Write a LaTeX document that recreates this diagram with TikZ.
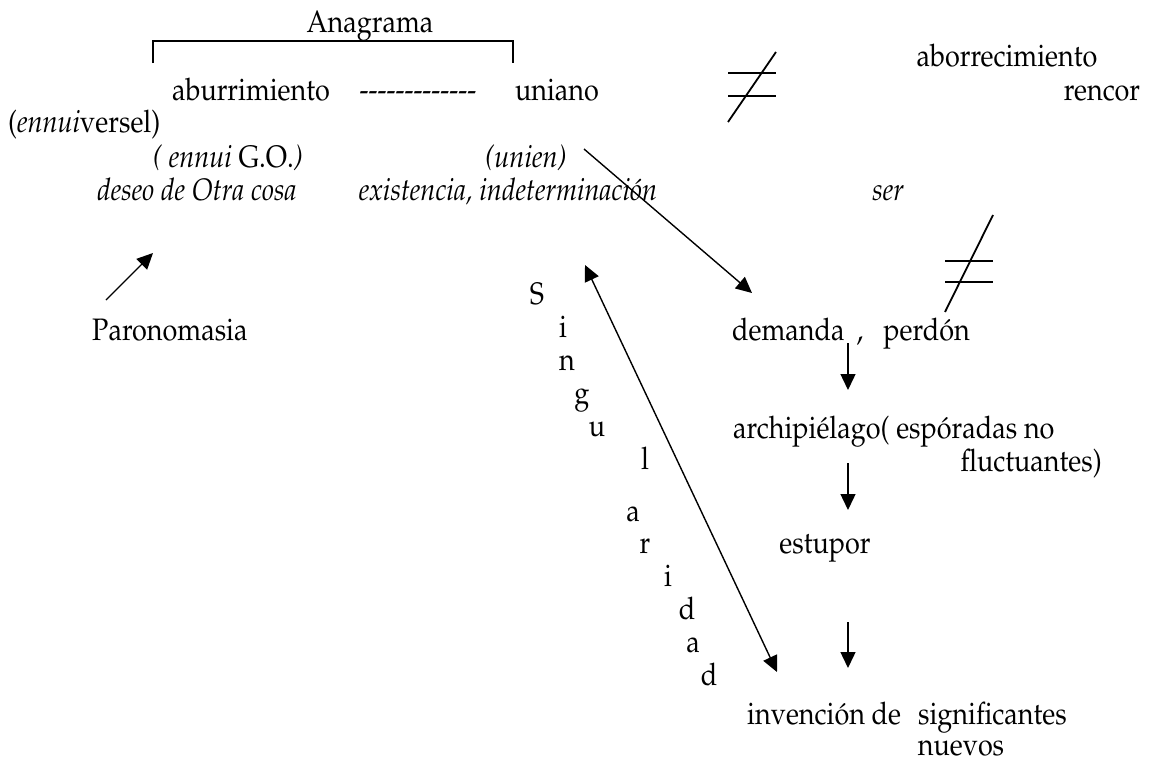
\documentclass[tikz,border=0pt]{standalone}
\usepackage[T1]{fontenc}
\usepackage{mathpazo}
\usepackage{graphicx}
\usetikzlibrary{arrows.meta}

\begin{document}
\begin{tikzpicture}[
    x=1pt, y=-1pt,
    font=\fontsize{27}{33}\selectfont,
    >= {Triangle[length=16pt, width=15pt]},
    txt/.style={anchor=base, inner sep=0pt},
    link/.style={line width=1.4pt},
    bar/.style={line width=1.8pt},
    ]

    \useasboundingbox (0,0) rectangle (1152,763);

    % Define a macro to place one word, a little taller than the font
    \newcommand{\word}[4]{
        % Parameters: Name, Anchor, Position, Text
        \node[txt, anchor=#2] (#1) at (#3) {\scalebox{1}[1.15]{#4}};
    }

    % Define a macro to draw a hand-made "not equal" sign
    \newcommand{\notequal}[6]{
        % Parameters: X_left, X_right, Y_slash_top, Y_slash_bottom, Y_bar1, Y_bar2
        \draw[bar] (#1, #5) -- (#2, #5);
        \draw[bar] (#1, #6) -- (#2, #6);
        \draw[bar] (#1, #4) -- (#2, #3);
    }

    % ==========================================
    % Top Row: Anagrama
    % ==========================================
    \word{anagrama}{base}{370, 32}{Anagrama}
    \word{aburrimiento}{base}{251, 100}{aburrimiento}
    \word{dashes}{base}{418, 100}{-{}-{}-{}-{}-{}-{}-{}-{}-{}-{}-{}-{}-}
    \word{uniano}{base}{557, 100}{uniano}

    \coordinate (brk-left) at (153, 63);
    \coordinate (brk-right) at (513, 63);
    \draw[bar] (brk-left) |- (anagrama.south) -| (brk-right);

    \word{aborrecimiento}{base}{1007, 66}{aborrecimiento}
    \word{rencor}{base}{1102, 100}{rencor}

    \notequal{728}{776}{52}{122}{73}{96}

    % ==========================================
    % Glosses under the words
    % ==========================================
    \word{ennuiversel}{base west}{8, 132}{(\textit{ennui}versel)}
    \word{ennuigo}{base}{228, 167}{\textit{( ennui} G.O.\textit{)}}
    \word{unien}{base}{526, 167}{\textit{(unien)}}
    \word{deseo}{base}{197, 200}{\textit{deseo de Otra cosa}}
    \word{existencia}{base}{508, 200}{\textit{existencia, indeterminación}}
    \word{ser}{base}{888, 200}{\textit{ser}}

    \notequal{945}{993}{215}{312}{261}{282}

    % ==========================================
    % Paronomasia
    % ==========================================
    \word{paronomasia}{base west}{92, 340}{Paronomasia}
    \coordinate (paro-out) at (106, 300);
    \coordinate (deseo-in) at (153, 253);
    \draw[->, link] (paro-out) -- (deseo-in);

    % ==========================================
    % Right column: chain of terms
    % ==========================================
    \word{demanda}{base west}{732, 340}{demanda\hspace{12pt},\hspace{20pt}perdón}
    \word{archipielago}{base west}{733, 438}{archipiélago( espóradas no}
    \word{fluctuantes}{base east}{1102, 471}{fluctuantes)}
    \word{estupor}{base}{825, 553}{estupor}
    \word{invencion}{base west}{747, 724}{invención de\hspace{17pt}significantes}
    \word{nuevos}{base}{961, 755}{nuevos}

    \coordinate (unien-out) at (584, 149);
    \coordinate (demanda-in) at (752, 293);
    \draw[->, link] (unien-out) -- (demanda-in);

    \foreach \name/\ya/\yb in {dem/343/390, arch/463/510, est/622/668} {
        \coordinate (\name-down) at (848, \ya);
        \coordinate (\name-next) at (848, \yb);
        \draw[->, link] (\name-down) -- (\name-next);
    }

    % ==========================================
    % Singularidad, written downwards
    % ==========================================
    \foreach \i/\x/\y/\ch in {
        1/537/304/S, 2/563/337/i, 3/567/370/n, 4/582/403/g,
        5/597/436/u, 6/645/469/l, 7/633/521/a, 8/645/553/r,
        9/668/586/i, 10/687/619/d, 11/693/652/a, 12/709/685/d}
    {
        \word{sing-\i}{base}{\x, \y}{\ch}
    }

    \coordinate (sing-top) at (585, 265);
    \coordinate (sing-bottom) at (777, 672);
    \draw[<->, link] (sing-top) -- (sing-bottom);

\end{tikzpicture}
\end{document}
